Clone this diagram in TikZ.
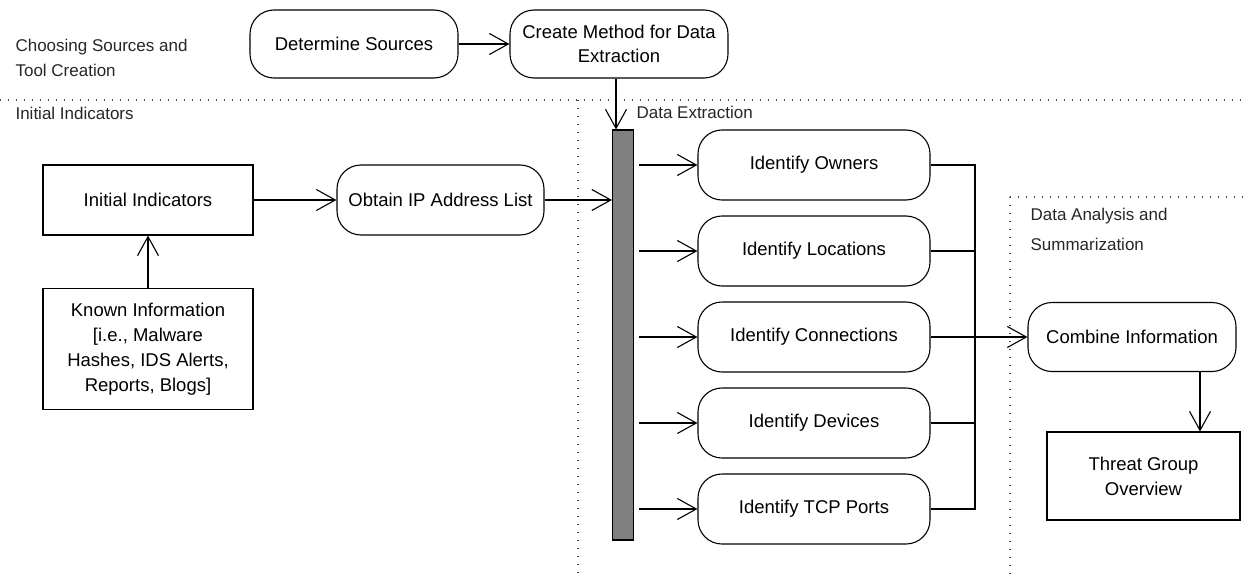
\documentclass[tikz,border=0pt]{standalone}
\usepackage{fontspec}
\setmainfont{Liberation Sans}
\usetikzlibrary{arrows.meta}
\begin{document}
\begin{tikzpicture}[x=1pt,y=-1pt,
  line width=1.1pt,
  arr/.style={-{Straight Barb[length=19pt,width=21pt,line width=1.1pt]}},
  proc/.style={draw,rounded corners=24pt,inner sep=0pt,align=center,
    font=\fontsize{18.5}{24}\selectfont},
  sq/.style={draw,inner sep=0pt,align=center,font=\fontsize{18.5}{25}\selectfont},
  lane/.style={line width=1.2pt,dash pattern=on 1.2pt off 6.8pt,black!70},
  lbl/.style={anchor=west,inner sep=0pt,font=\fontsize{17}{22}\selectfont,text=black!85}]
\useasboundingbox (0,0) rectangle (1246,575);
% lanes
\draw[lane] (0,100) -- (1246,100);
\draw[lane] (578,100) -- (578,575);
\draw[lane] (1010,197) -- (1246,197);
\draw[lane] (1010,197) -- (1010,575);
% labels
\node[lbl] (l1) at (15,47) {Choosing Sources and};
\node[lbl] (l2) at (15,70) {Tool Creation};
\node[lbl] (l3) at (15,113) {Initial Indicators};
\node[lbl] (l4) at (636,112) {Data Extraction};
\node[lbl] (l5) at (1030,216) {Data Analysis and};
\node[lbl] (l6) at (1030,244) {Summarization};
% nodes
\node[proc,minimum width=208pt,minimum height=68pt] (ds) at (354,44) {Determine Sources};
\node[proc,minimum width=218pt,minimum height=68pt] (cm) at (619,44) {Create Method for Data\\Extraction};
\node[sq,minimum width=210pt,minimum height=70pt] (ii) at (148,200) {Initial Indicators};
\node[sq,minimum width=210pt,minimum height=121pt] (ki) at (148,349) {Known Information\\{}[i.e., Malware\\Hashes, IDS Alerts,\\Reports, Blogs]};
\node[proc,minimum width=207pt,minimum height=70pt] (oip) at (440.5,200) {Obtain IP Address List};
\node[draw,fill=black!50,inner sep=0pt,minimum width=21pt,minimum height=410pt] (bar) at (623,335) {};
\node[proc,minimum width=232pt,minimum height=70pt] (own) at (814,165) {Identify Owners};
\node[proc,minimum width=232pt,minimum height=70pt] (loc) at (814,251) {Identify Locations};
\node[proc,minimum width=232pt,minimum height=70pt] (con) at (814,337) {Identify Connections};
\node[proc,minimum width=232pt,minimum height=70pt] (dev) at (814,423) {Identify Devices};
\node[proc,minimum width=232pt,minimum height=70pt] (tcp) at (814,509) {Identify TCP Ports};
\node[proc,minimum width=208pt,minimum height=69pt] (ci) at (1132,337) {Combine Information};
\node[sq,minimum width=193pt,minimum height=88pt] (tg) at (1143.5,476) {Threat Group\\Overview};
% connectors
\draw[arr] (ds.east) -- (cm.west);
\coordinate (cx) at (616,0);
\draw[arr] (cm.south -| cx) -- (bar.north -| cx);
\draw[arr] (ki.north) -- (ii.south);
\draw[arr] (ii.east) -- (oip.west);
\draw[arr] (oip.east) -- (oip.east -| bar.west);
\coordinate (bx) at ([xshift=5pt]bar.east);
\foreach \n in {own,loc,con,dev,tcp} {
  \draw[arr] (bx |- \n.west) -- (\n.west);
}
\coordinate (jx) at (975,0);
\draw (own.east) -- (own.east -| jx) -- (tcp.east -| jx) -- (tcp.east);
\draw (loc.east) -- (loc.east -| jx);
\draw (dev.east) -- (dev.east -| jx);
\draw[arr] (con.east) -- (ci.west);
\coordinate (tx) at (1200,0);
\draw[arr] (ci.south -| tx) -- (tg.north -| tx);
\end{tikzpicture}
\end{document}
